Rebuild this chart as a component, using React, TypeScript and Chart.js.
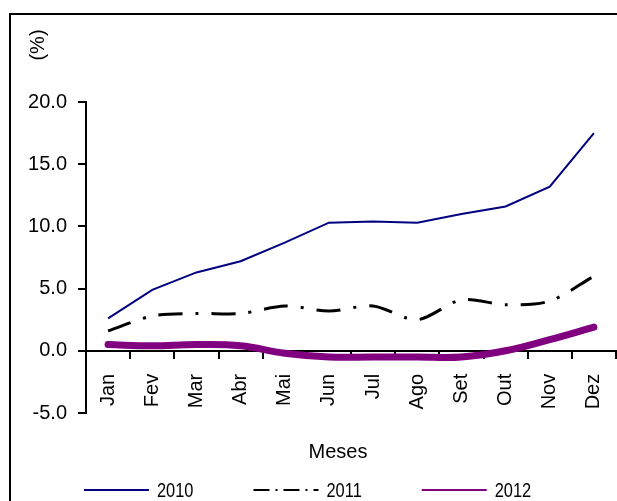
import React, { useEffect, useRef } from "react";
import { Chart, registerables } from "chart.js";

Chart.register(...registerables);

const months = ["Jan", "Fev", "Mar", "Abr", "Mai", "Jun", "Jul", "Ago", "Set", "Out", "Nov", "Dez"];
const values2010 = [2.6, 4.9, 6.3, 7.2, 8.7, 10.3, 10.4, 10.3, 11.0, 11.6, 13.2, 17.5];
const values2011 = [1.6, 2.8, 3.0, 3.0, 3.6, 3.2, 3.6, 2.5, 4.1, 3.7, 4.0, 6.0];
const values2012 = [0.5, 0.4, 0.5, 0.4, -0.2, -0.5, -0.5, -0.5, -0.5, 0.0, 0.9, 1.9];
const seriesNames = ["2010", "2011", "2012"];
const yAxisTitle = "(%)";
const xAxisTitle = "Meses";
const yMin = -5;
const yMax = 20;
const yStep = 5;

const FONT = "'Liberation Sans', Arial, Helvetica, sans-serif";

const decorPlugin = {
  id: "decor",
  beforeDraw(chart: any) {
    const ctx = chart.ctx;
    ctx.save();
    ctx.fillStyle = "#fff";
    ctx.fillRect(0, 0, chart.width, chart.height);
    ctx.strokeStyle = "#000";
    ctx.lineWidth = 2;
    ctx.beginPath();
    ctx.moveTo(10, chart.height + 5);
    ctx.lineTo(10, 14);
    ctx.lineTo(chart.width + 5, 14);
    ctx.stroke();
    ctx.restore();
  },
  afterDraw(chart: any) {
    const ctx = chart.ctx;
    ctx.save();
    ctx.fillStyle = "#000";
    ctx.font = `20px ${FONT}`;
    // y axis title (rotated)
    ctx.save();
    ctx.translate(38, 45);
    ctx.rotate(-Math.PI / 2);
    ctx.textAlign = "center";
    ctx.textBaseline = "middle";
    ctx.fillText(yAxisTitle, 0, 0);
    ctx.restore();
    // x axis title
    ctx.textAlign = "center";
    ctx.textBaseline = "middle";
    ctx.fillText(xAxisTitle, 338, 452);
    // legend
    ctx.textAlign = "left";
    let x = 84;
    const y = 490;
    chart.data.datasets.forEach((ds: any) => {
      ctx.save();
      ctx.strokeStyle = ds.borderColor;
      ctx.lineWidth = ds.legendWidth;
      ctx.setLineDash(ds.legendDash || []);
      ctx.lineCap = "butt";
      ctx.beginPath();
      ctx.moveTo(x, y);
      ctx.lineTo(x + 65, y);
      ctx.stroke();
      ctx.restore();
      const tx = x + 73;
      const sx = 0.82;
      ctx.save();
      ctx.translate(tx, y + 1);
      ctx.scale(sx, 1);
      ctx.fillStyle = "#000";
      ctx.fillText(ds.label, 0, 0);
      const w = ctx.measureText(ds.label).width * sx;
      ctx.restore();
      x = tx + w + 60;
    });
    ctx.restore();
  },
};

export default function App() {
  const ref = useRef<HTMLCanvasElement | null>(null);
  useEffect(() => {
    if (!ref.current) return;
    const chart = new Chart(ref.current, {
      type: "line",
      data: {
        labels: months,
        datasets: [
          {
            label: seriesNames[0],
            data: values2010,
            borderColor: "#000080",
            borderWidth: 2,
            pointRadius: 0,
            tension: 0,
            fill: false,
            legendWidth: 2,
          } as any,
          {
            label: seriesNames[1],
            data: values2011,
            borderColor: "#000000",
            borderWidth: 3,
            borderDash: [24, 13, 3, 13],
            pointRadius: 0,
            tension: 0.3,
            fill: false,
            legendWidth: 2,
            legendDash: [16, 6, 2, 6],
          } as any,
          {
            label: seriesNames[2],
            data: values2012,
            borderColor: "#800080",
            borderWidth: 7,
            borderCapStyle: "round",
            pointRadius: 0,
            tension: 0.4,
            fill: false,
            legendWidth: 2,
          } as any,
        ],
      },
      options: {
        responsive: false,
        animation: false,
        devicePixelRatio: 1,
        layout: { padding: { left: 0, right: 1, top: 102, bottom: 88 } },
        plugins: {
          legend: { display: false },
          tooltip: { enabled: false },
          title: { display: false },
        },
        scales: {
          x: {
            type: "category",
            position: { y: 0 } as any,
            offset: true,
            grid: {
              drawOnChartArea: false,
              drawTicks: true,
              tickLength: 7,
              color: "#000",
              lineWidth: 2,
              offset: true,
            },
            border: { display: true, color: "#000", width: 2 },
            ticks: {
              color: "#000",
              font: { family: FONT, size: 20 },
              minRotation: 90,
              maxRotation: 90,
              autoSkip: false,
              padding: 16,
            },
            afterFit(scale: any) {
              scale.paddingLeft = 0;
              scale.paddingRight = 0;
            },
          },
          y: {
            min: yMin,
            max: yMax,
            grid: {
              drawOnChartArea: false,
              drawTicks: true,
              tickLength: 8,
              color: "#000",
              lineWidth: 2,
            },
            border: { display: true, color: "#000", width: 2 },
            ticks: {
              stepSize: yStep,
              color: "#000",
              font: { family: FONT, size: 20 },
              padding: 11,
              callback: (v: any) => Number(v).toFixed(1),
            },
            afterFit(scale: any) {
              scale.width = 86;
            },
          },
        },
      },
      plugins: [decorPlugin],
    });
    return () => chart.destroy();
  }, []);
  return (
    <canvas
      ref={ref}
      width={617}
      height={501}
      style={{ position: "fixed", left: 0, top: 0, width: 617, height: 501, display: "block" }}
    />
  );
}
